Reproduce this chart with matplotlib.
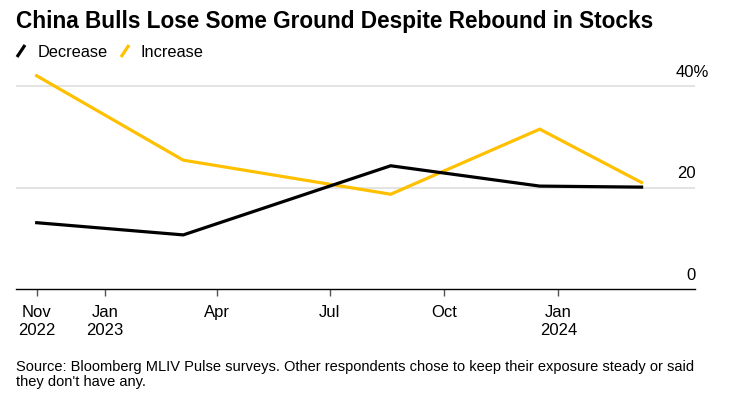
import matplotlib
matplotlib.use("Agg")
import matplotlib.pyplot as plt
import matplotlib.transforms as mtransforms
from matplotlib.lines import Line2D
import datetime as dt

# ---- data ----
survey_dates = ["2022-11-07", "2023-03-05", "2023-08-19", "2023-12-17", "2024-03-08"]
decrease = [13.1, 10.7, 24.3, 20.3, 20.1]
increase = [42.0, 25.4, 18.7, 31.5, 21.0]
series_names = ["Decrease", "Increase"]
y_ticks = [0, 20, 40]
y_tick_labels = ["0", "20", "40%"]
x_tick_dates = ["2022-11-07", "2023-01-01", "2023-04-01", "2023-07-01", "2023-10-01", "2024-01-01"]
x_tick_labels = ["Nov\n2022", "Jan\n2023", "Apr", "Jul", "Oct", "Jan\n2024"]
title = "China Bulls Lose Some Ground Despite Rebound in Stocks"
source_lines = ["Source: Bloomberg MLIV Pulse surveys. Other respondents chose to keep their exposure steady or said",
                "they don't have any."]

# ---- style ----
BLACK = "#000000"
YELLOW = "#FFC000"
GRID = "#e1e1e1"
FONT = ["Liberation Sans", "DejaVu Sans"]
plt.rcParams["font.family"] = FONT

W, H = 731, 397
fig = plt.figure(figsize=(W / 100, H / 100), dpi=100)


def fx(px):
    return px / W


def fy(py):
    return 1 - py / H


ax = fig.add_axes([fx(16), fy(289.3), fx(695) - fx(16), fy(70.7) - fy(289.3)])

to_date = lambda s: dt.datetime.strptime(s, "%Y-%m-%d")
xd = [to_date(s) for s in survey_dates]

ax.plot(xd, increase, color=YELLOW, lw=2.3, solid_joinstyle="miter", clip_on=False, zorder=3)
ax.plot(xd, decrease, color=BLACK, lw=2.3, solid_joinstyle="miter", clip_on=False, zorder=4)

ax.set_xlim(dt.datetime(2022, 10, 21, 8), dt.datetime(2024, 4, 20))
ax.set_ylim(0, 43)

for s in ["top", "right", "left"]:
    ax.spines[s].set_visible(False)
ax.spines["bottom"].set_color(BLACK)
ax.spines["bottom"].set_linewidth(1.0)
ax.spines["bottom"].set_zorder(5)

for v in y_ticks[1:]:
    ax.axhline(v, color=GRID, lw=1.3, zorder=1)

ax.set_yticks([])
ax.set_xticks([to_date(s) for s in x_tick_dates])
ax.set_xticklabels(x_tick_labels, fontsize=12, linespacing=1.25)
ax.tick_params(axis="x", length=5, width=1, color="#555555", pad=6.5)

# y labels above gridlines, numbers right aligned at right end of axis ("%" hangs past)
trans = mtransforms.blended_transform_factory(ax.transAxes, ax.transData)
for v, lab in zip(y_ticks, y_tick_labels):
    extra = 0.135 if lab.endswith("%") else 0.0
    tr = mtransforms.offset_copy(trans, fig=fig, x=0.01 + extra, y=0.094, units="inches")
    ax.text(1.0, v, lab, transform=tr, ha="right", va="baseline", fontsize=12, color=BLACK)

# title
fig.text(fx(16), fy(28.3), title, fontsize=16.3, fontweight="bold",
         ha="left", va="baseline", color=BLACK)

# legend
leg_items = [(series_names[0], BLACK, 16, 38), (series_names[1], YELLOW, 120, 141)]
for name, col, sx, tx in leg_items:
    fig.add_artist(Line2D([fx(sx + 1), fx(sx + 9)], [fy(57), fy(45)], color=col, lw=2.3,
                          transform=fig.transFigure, solid_capstyle="butt"))
    fig.text(fx(tx), fy(51), name, fontsize=11.8, ha="left", va="center_baseline", color=BLACK)

# source
fig.text(fx(16), fy(366), source_lines[0], fontsize=10.5, ha="left", va="center_baseline", color=BLACK)
fig.text(fx(16), fy(380.5), source_lines[1], fontsize=10.5, ha="left", va="center_baseline", color=BLACK)

fig.savefig("out.png", dpi=100, facecolor="white")
